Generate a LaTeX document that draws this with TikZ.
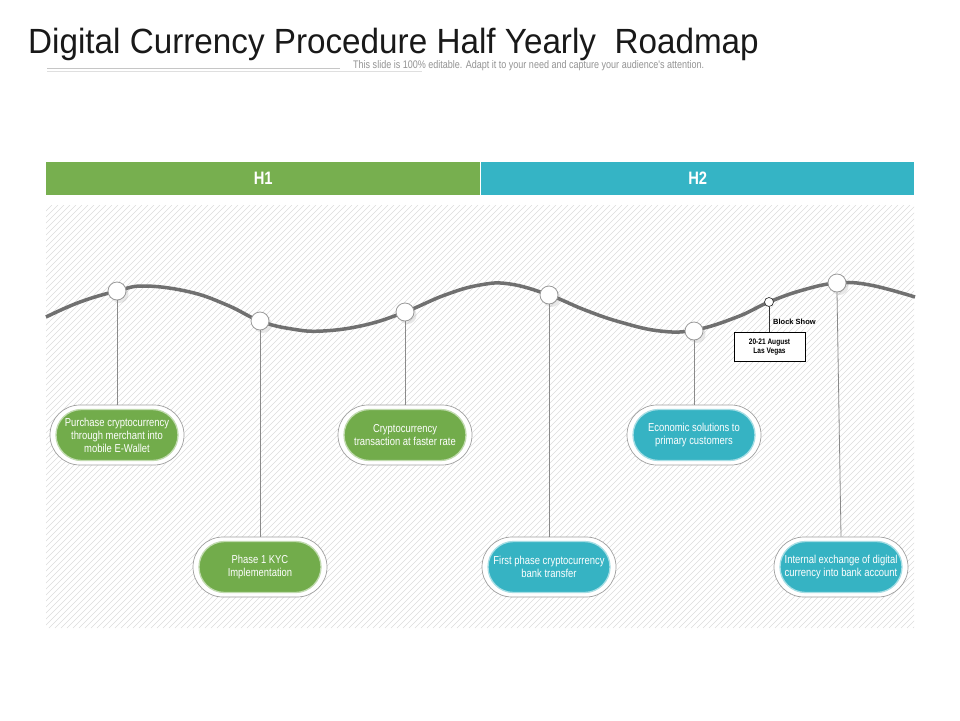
\documentclass[tikz,border=0pt]{standalone}
\usepackage{fontspec}
\setmainfont{Liberation Sans}
\newfontfamily\narrowfont[FakeStretch=0.82]{Liberation Sans}
\newfontfamily\titlefont[FakeStretch=0.95]{Liberation Sans}
\usetikzlibrary{shapes.misc,shadows}
\definecolor{hgreen}{HTML}{77AF4F}
\definecolor{hteal}{HTML}{35B4C5}
\definecolor{pgreen}{HTML}{72AC4B}
\definecolor{pteal}{HTML}{36B3C3}
\definecolor{wavecol}{HTML}{707070}
\definecolor{hatchcol}{HTML}{DCDCDC}
\definecolor{conncol}{HTML}{8A8A8A}
\begin{document}
\begin{tikzpicture}[x=1pt,y=-1pt,
  hdr/.style={inner sep=0pt, minimum width=434pt, minimum height=33pt, anchor=north west,
    text=white, font=\narrowfont\bfseries\fontsize{18}{20}\selectfont},
  circ/.style={circle, fill=white, draw=gray!80, line width=0.8pt, minimum size=18pt, inner sep=0pt,
    drop shadow={opacity=0.18, shadow xshift=2.5pt, shadow yshift=-3pt}},
  outerpill/.style={rounded rectangle, draw=gray!75, fill=white, line width=0.7pt,
    minimum width=134pt, minimum height=60pt, inner sep=0pt},
  pill/.style={rounded rectangle, line width=1.3pt, minimum width=124pt, minimum height=51pt,
    inner sep=1pt, text=white, align=center, font=\narrowfont\fontsize{11.5}{13}\selectfont},
  gpill/.style={pill, fill=pgreen, draw=pgreen!45!white},
  tpill/.style={pill, fill=pteal, draw=pteal!45!white},
  conn/.style={draw=conncol, line width=0.8pt}
]
\useasboundingbox (0,0) rectangle (960,720);
\fill[white] (0,0) rectangle (960,720);

% title
\node[anchor=base west, inner sep=0pt, font=\titlefont\fontsize{35}{40}\selectfont, text=black!90]
  (title) at (28,53) {Digital Currency Procedure Half Yearly\ \ Roadmap};
\draw[gray!45, line width=0.6pt] (47,68) -- (340,68);
\draw[gray!25, line width=0.6pt] (47,71) -- (422,71);
\node[anchor=west, inner sep=0pt, font=\narrowfont\fontsize{11}{12}\selectfont, text=gray!85]
  (sub) at (353,66) {This slide is 100\% editable. Adapt it to your need and capture your audience's attention.};

% hatched panel
\begin{scope}
\clip (46,205) rectangle (914,628);
\foreach \i in {0,6,...,1300}
  \draw[hatchcol, line width=0.6pt] ({46+\i-423},628) -- ({46+\i},205);
\end{scope}

% header
\node[hdr, fill=hgreen] (h1) at (46,162) {H1};
\node[hdr, fill=hteal, minimum width=433pt] (h2) at (481,162) {H2};

% wave
\draw[wavecol, line width=3.5pt] plot[smooth, tension=0.7] coordinates
  {(46,317) (80,302) (117,291) (145,286) (190,292) (227,305) (260,321) (292,329) (323,331)
   (365,325) (405,312) (445,295) (480,285) (510,284) (549,295) (585,310) (620,322)
   (660,331) (695,330) (737,317) (769,302) (803,290) (837,283) (870,285) (915,297)};

% circles
\node[circ] (c1) at (117,291) {};
\node[circ] (c2) at (260,321) {};
\node[circ] (c3) at (405,312) {};
\node[circ] (c4) at (549,295) {};
\node[circ] (c5) at (694,331) {};
\node[circ] (c7) at (837,283) {};
\node[circle, fill=white, draw=black!80, line width=0.7pt, minimum size=9pt, inner sep=0pt] (c6) at (769,302) {};

% pills
\node[outerpill] (o1) at (117,435) {};
\node[gpill] (b1) at (117,435) {Purchase cryptocurrency\\through merchant into\\mobile E-Wallet};
\node[outerpill] (o2) at (260,567) {};
\node[gpill] (b2) at (260,567) {Phase 1 KYC\\Implementation};
\node[outerpill] (o3) at (405,435) {};
\node[gpill] (b3) at (405,435) {Cryptocurrency\\transaction at faster rate};
\node[outerpill] (o4) at (549,567) {};
\node[tpill] (b4) at (549,567) {First phase cryptocurrency\\bank transfer};
\node[outerpill] (o5) at (694,435) {};
\node[tpill] (b5) at (694,435) {Economic solutions to\\primary customers};
\node[outerpill] (o6) at (841,567) {};
\node[tpill] (b6) at (841,567) {Internal exchange of digital\\currency into bank account};

% event box
\node[draw=black, fill=white, line width=0.6pt, minimum width=71pt, minimum height=29pt, inner sep=1pt,
  align=center, font=\narrowfont\bfseries\fontsize{8}{9.5}\selectfont] (lv) at (769.5,347) {20-21 August\\Las Vegas};
\node[anchor=west, inner sep=0pt, font=\bfseries\fontsize{7.5}{9}\selectfont] (bs) at (773,322) {Block Show};

% connectors
\draw[conn] (c1.south) -- (o1.north);
\draw[conn] (c2.south) -- (o2.north);
\draw[conn] (c3.south) -- (o3.north);
\draw[conn] (c4.south) -- (o4.north);
\draw[conn] (c5.south) -- (o5.north);
\draw[conn] (c7.south) -- (o6.north);
\draw[black!80, line width=0.7pt] (c6.south) -- (lv.north -| c6.south);
\end{tikzpicture}
\end{document}
